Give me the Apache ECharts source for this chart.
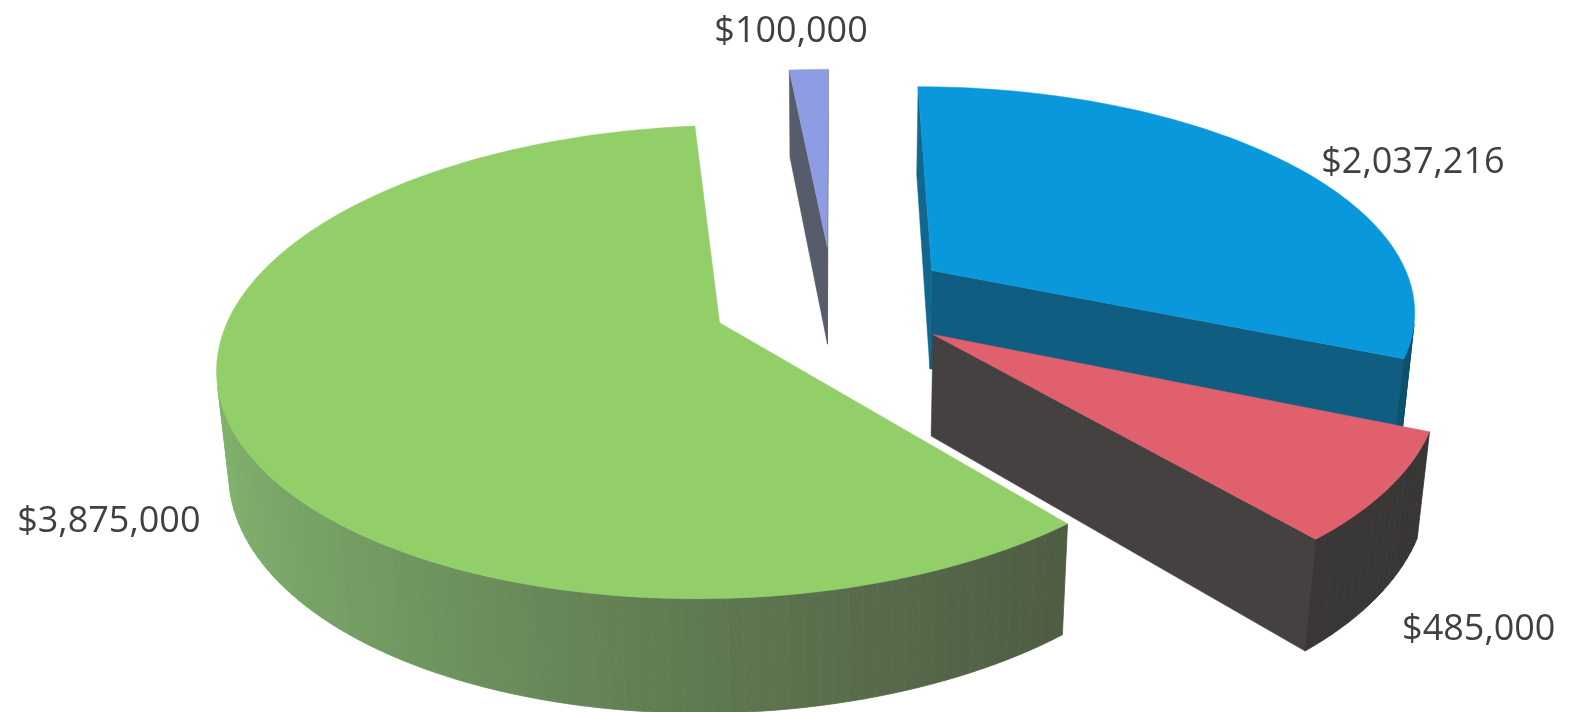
<!DOCTYPE html>
<html>
<head>
<meta charset="utf-8">
<script src="https://cdn.jsdelivr.net/npm/echarts@6/dist/echarts.min.js"></script>
<style>
html,body{margin:0;padding:0;background:#ffffff;}
#chart{width:1569px;height:712px;}
</style>
</head>
<body>
<div id="chart"></div>
<script>
// ---- data (clockwise from 12 o'clock) ----
const categories = ['Segment 1', 'Segment 2', 'Segment 3', 'Segment 4'];
const values = [2037216, 485000, 3875000, 100000];
const labelTexts = values.map(v => '$' + v.toLocaleString('en-US'));

// ---- styles ----
const topColors = ['#0a98dc', '#e0606d', '#92cf68', '#8d9ce3'];
const sideLight = ['#11678e', '#474343', '#82b46e', '#565c6a'];
const sideDark  = ['#0b4e6c', '#383535', '#48523f', '#3e424b'];
// label placement: [radius factor, height factor, horizontal nudge px, vertical nudge px]
const labelPlace = [[1.4, 0.6, 4, 3], [1.2, 0.1, 0, 6], [1.24, 0.3, 0, 3], [1.3, 1.0, -13, 6]];

// ---- 3D view ----
const view = { phi: 28 * Math.PI / 180, D: 5.5, h: 0.222, explode: 0.25,
               cxr: 0.5309, cyr: 0.5625, fxr: 1.6667, fyr: 3.862 };

function hexToRgb(h) { const n = parseInt(h.slice(1), 16); return [(n >> 16) & 255, (n >> 8) & 255, n & 255]; }
function mix(a, b, t) {
  const A = hexToRgb(a), B = hexToRgb(b);
  return 'rgb(' + A.map((v, k) => Math.round(v + (B[k] - v) * t)).join(',') + ')';
}

function renderItem(params, api) {
  const i = params.dataIndex;
  const W = api.getWidth(), H = api.getHeight();
  const s = Math.sin(view.phi), c = Math.cos(view.phi), D = view.D, h = view.h;
  const camPos = [0, D * s, -D * c];
  const proj = (x, y, z) => {
    const depth = D + z * c - y * s;
    const up = y * c + z * s;
    return [W * view.cxr + W * view.fxr * x / depth, H * view.cyr - H * view.fyr * up / depth];
  };
  const dist = (x, y, z) => Math.hypot(x - camPos[0], y - camPos[1], z - camPos[2]);
  const total = values.reduce((a, b) => a + b, 0);
  let cum = 0;
  for (let k = 0; k < i; k++) cum += values[k];
  const a0 = cum / total * Math.PI * 2;
  const a1 = (cum + values[i]) / total * Math.PI * 2;
  const mid = (a0 + a1) / 2;
  const ox = view.explode * Math.sin(mid), oz = view.explode * Math.cos(mid);
  const children = [];
  const N = Math.max(2, Math.ceil((a1 - a0) / (Math.PI / 120)));
  const rim = (t, y) => proj(ox + Math.sin(t), y, oz + Math.cos(t));

  // top face
  const topPts = [proj(ox, h, oz)];
  for (let k = 0; k <= N; k++) topPts.push(rim(a0 + (a1 - a0) * k / N, h));
  children.push({ type: 'polygon', shape: { points: topPts }, style: { fill: topColors[i], stroke: topColors[i], lineWidth: 0.5 }, z2: 10000 });

  const visible = (nx, nz, px, py, pz) => nx * (camPos[0] - px) + nz * (camPos[2] - pz) > 0;

  // outer wall
  for (let k = 0; k < N; k++) {
    const ta = a0 + (a1 - a0) * k / N, tb = a0 + (a1 - a0) * (k + 1) / N, tm = (ta + tb) / 2;
    const nx = Math.sin(tm), nz = Math.cos(tm);
    const px = ox + nx, pz = oz + nz;
    if (!visible(nx, nz, px, h / 2, pz)) continue;
    const t = Math.pow((1 - nx) / 2, 1.3);
    const col = mix(sideDark[i], sideLight[i], t);
    children.push({ type: 'polygon', shape: { points: [rim(ta, h), rim(tb, h), rim(tb, 0), rim(ta, 0)] },
      style: { fill: col, stroke: col, lineWidth: 0.8 }, z2: Math.round(5000 - dist(px, h / 2, pz) * 100) });
  }
  // radial faces
  const faces = [[a0, -Math.cos(a0), Math.sin(a0)], [a1, Math.cos(a1), -Math.sin(a1)]];
  faces.forEach(([a, nx, nz]) => {
    const px = ox + 0.5 * Math.sin(a), pz = oz + 0.5 * Math.cos(a);
    if (!visible(nx, nz, px, h / 2, pz)) return;
    const t = Math.pow((1 - nx) / 2, 1.3);
    const col = mix(sideDark[i], sideLight[i], t);
    children.push({ type: 'polygon', shape: { points: [proj(ox, h, oz), rim(a, h), rim(a, 0), proj(ox, 0, oz)] },
      style: { fill: col, stroke: col, lineWidth: 0.5 }, z2: Math.round(5000 - dist(px, h / 2, pz) * 100) });
  });

  // label
  const [lr, lh, ldx, ldy] = labelPlace[i];
  const lp = proj(ox + lr * Math.sin(mid), lh * h, oz + lr * Math.cos(mid));
  children.push({ type: 'text', z2: 20000,
    style: { text: labelTexts[i], x: lp[0] + ldx, y: lp[1] + ldy, fill: '#404040',
             fontSize: 36, fontFamily: '"Open Sans", "Noto Sans", sans-serif',
             align: 'center', verticalAlign: 'middle' } });

  return { type: 'group', children: children };
}

const chart = echarts.init(document.getElementById('chart'), null, { renderer: 'canvas' });
chart.setOption({
  backgroundColor: '#ffffff',
  animation: false,
  series: [{
    type: 'custom',
    coordinateSystem: 'none',
    renderItem: renderItem,
    data: values.map((v, k) => ({ name: categories[k], value: v }))
  }]
});
</script>
</body>
</html>
